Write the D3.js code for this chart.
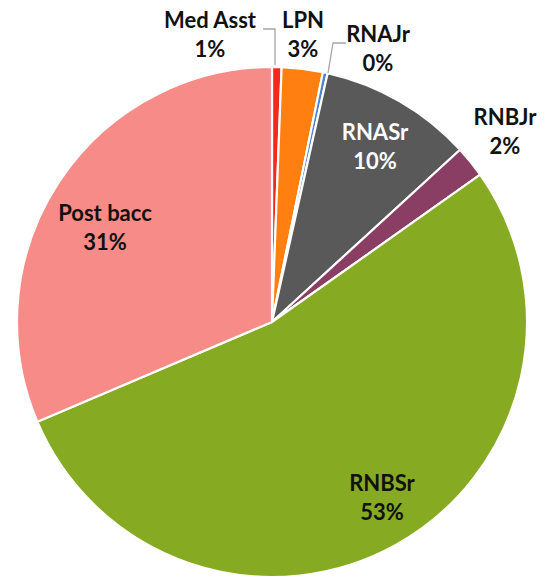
<!DOCTYPE html>
<html><head><meta charset="utf-8">
<script src="https://cdn.jsdelivr.net/npm/d3@7"></script>
<style>html,body{margin:0;padding:0;background:#fff;}svg{display:block;}</style>
</head><body>
<script>
const categories = ["Med Asst","LPN","RNAJr","RNASr","RNBJr","RNBSr","Post bacc"];
const values = [0.6, 2.6, 0.3, 9.7, 2.0, 53.4, 31.4];
const colors = ["#F5281C","#FF7F11","#4F81CF","#595959","#8A3E63","#86AA22","#F78B88"];
// label anchors (x, y of first line) and text color
const labelPos = [[210,28],[303,28],[378,42],[375,140],[505,125],[382,491],[105,221]];
const labelColor = ["#111","#111","#111","#fff","#111","#111","#111"];

const W=544,H=578, cx=272, cy=322, R=255;
const svg=d3.select("body").append("svg").attr("width",W).attr("height",H);
const g=svg.append("g").attr("transform",`translate(${cx},${cy})`);
const pie=d3.pie().sort(null).value(d=>d.v);
const data=categories.map((c,i)=>({c,v:values[i],i}));
const arcs=pie(data);
const arc=d3.arc().innerRadius(0).outerRadius(R);
g.selectAll("path").data(arcs).enter().append("path")
  .attr("d",arc).attr("fill",d=>colors[d.data.i])
  .attr("stroke","#fff").attr("stroke-width",2.2).attr("stroke-linejoin","round");

// leader lines
const leaders=[[[263,29],[275,29],[275,65]],[[346,43],[333,43],[328,73]]];
svg.selectAll("polyline").data(leaders).enter().append("polyline")
  .attr("points",d=>d.map(p=>p.join(",")).join(" "))
  .attr("fill","none").attr("stroke","#A6A6A6").attr("stroke-width",1.3);

const total=d3.sum(values);
const lab=svg.selectAll("text.l").data(data).enter().append("text")
  .attr("class","l").attr("text-anchor","middle")
  .attr("font-family","Lato, 'Open Sans', sans-serif").attr("font-weight",700)
  .attr("font-size",22).attr("fill",d=>labelColor[d.i]);
lab.append("tspan").attr("x",d=>labelPos[d.i][0]).attr("y",d=>labelPos[d.i][1]).text(d=>d.c);
lab.append("tspan").attr("x",d=>labelPos[d.i][0]).attr("dy",29).text(d=>Math.round(d.v/total*100)+"%");
</script>
</body></html>
